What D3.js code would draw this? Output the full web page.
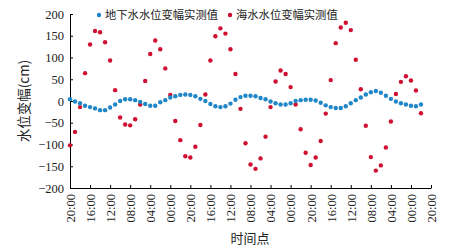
<!DOCTYPE html>
<html>
<head>
<meta charset="utf-8">
<script src="https://cdn.jsdelivr.net/npm/d3@7"></script>
<style>
body { margin: 0; background: #fff; }
svg text { fill: #222; }
</style>
</head>
<body>
<svg width="454" height="251"></svg>
<script>
// hourly readings, hour 0 .. 70
var groundWater = [4, -1, -5, -11, -14, -17, -21, -21, -15, -8, 0, 4, 4, 2, -2, -7, -11, -11, -3, 2,
    8, 11, 14, 15, 14, 11, 5, 0, -7, -12, -14, -12, -6, 3, 9, 12, 12, 11, 7, 4,
    -1, -5, -8, -8, -5, 0, 2, 3, 3, 1, -4, -10, -14, -16, -16, -12, -5, 2, 8, 15,
    20, 23, 19, 12, 5, -1, -5, -8, -11, -12, -8];
var seaWater = [-102, -71, -14, 64, 130, 161, 158, 135, 93, 25, -38, -54, -56, -42, -8, 46, 108, 139, 119, 75,
    14, -46, -90, -127, -130, -105, -55, 15, 93, 149, 167, 155, 119, 62, -18, -97, -146, -156, -132, -82,
    -14, 45, 70, 62, 32, -8, -65, -119, -147, -130, -92, -29, 48, 133, 169, 180, 163, 95, 27, -57,
    -129, -160, -148, -107, -47, 16, 44, 57, 47, 24, -28];
var timeLabels = ["20:00", "16:00", "12:00", "08:00", "04:00", "00:00", "20:00", "16:00", "12:00", "08:00",
    "04:00", "00:00", "20:00", "16:00", "12:00", "08:00", "04:00", "00:00", "20:00"];
var yTicks = [200, 150, 100, 50, 0, -50, -100, -150, -200];
var seriesNames = ["地下水水位变幅实测值", "海水水位变幅实测值"];

var blue = "#1f86c8";
var red = "#cf1030";
var serif = "'Liberation Serif', 'DejaVu Serif', serif";
var cjk = "'Noto Sans CJK SC', sans-serif";

var svg = d3.select('svg');

var x = d3.scaleLinear().domain([0, 72]).range([70, 431]);
var y = d3.scaleLinear().domain([-200, 200]).range([188, 14]);

// y axis
var yAxis = svg.append('g')
    .attr('transform', 'translate(70,0)')
    .call(d3.axisLeft(y).tickValues(yTicks).tickSizeInner(-3).tickSizeOuter(0).tickPadding(6))
    .attr('font-family', serif)
    .attr('font-size', 12.5);
yAxis.select('.domain').attr('stroke', '#000');
yAxis.selectAll('.tick line').attr('stroke', '#000');
yAxis.selectAll('text')
    .style('font-family', serif)
    .style('font-size', '12.5px')
    .attr('fill', '#222');

// x axis
var xAxis = svg.append('g')
    .attr('transform', 'translate(0,188)')
    .call(d3.axisBottom(x)
        .tickValues(d3.range(0, 73, 4))
        .tickFormat(function(d, i) { return timeLabels[i]; })
        .tickSizeInner(-3).tickSizeOuter(0))
    .attr('font-family', serif)
    .attr('font-size', 12.5);
xAxis.select('.domain').attr('stroke', '#000');
xAxis.selectAll('.tick line').attr('stroke', '#000');
xAxis.selectAll('text')
    .attr('y', 0)
    .attr('x', -6)
    .attr('dy', '0.35em')
    .attr('transform', 'rotate(-90)')
    .style('text-anchor', 'end')
    .style('font-family', serif)
    .style('font-size', '12.5px')
    .attr('fill', '#222');

// axis titles
svg.append('text')
    .text('时间点')
    .attr('x', 250)
    .attr('y', 243)
    .style('text-anchor', 'middle')
    .style('font-family', cjk)
    .style('font-size', '13px');

svg.append('text')
    .text('水位变幅(cm)')
    .attr('transform', 'translate(29,101)rotate(-90)')
    .style('text-anchor', 'middle')
    .style('font-family', cjk)
    .style('font-size', '13.5px');

// points
svg.selectAll('.sea')
    .data(seaWater)
    .enter()
    .append('circle')
    .attr('class', 'sea')
    .attr('cx', function(d, i) { return x(i); })
    .attr('cy', function(d) { return y(d); })
    .attr('r', 2.2)
    .attr('fill', red);

svg.selectAll('.ground')
    .data(groundWater)
    .enter()
    .append('circle')
    .attr('class', 'ground')
    .attr('cx', function(d, i) { return x(i); })
    .attr('cy', function(d) { return y(d); })
    .attr('r', 2.2)
    .attr('fill', blue);

// legend
var legend = [
    { name: seriesNames[0], color: blue, x: 99 },
    { name: seriesNames[1], color: red, x: 230 }
];
var lg = svg.selectAll('.legend')
    .data(legend)
    .enter()
    .append('g')
    .attr('class', 'legend')
    .attr('transform', function(d) { return 'translate(' + d.x + ',15)'; });
lg.append('circle')
    .attr('r', 2.2)
    .attr('fill', function(d) { return d.color; });
lg.append('text')
    .text(function(d) { return d.name; })
    .attr('x', 6)
    .attr('dy', '0.38em')
    .style('font-family', cjk)
    .style('font-size', '11.3px');
</script>
</body>
</html>
